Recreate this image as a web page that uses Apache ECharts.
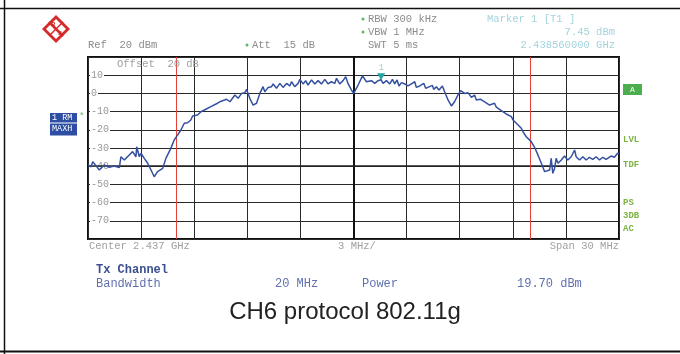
<!DOCTYPE html>
<html><head><meta charset="utf-8">
<script src="https://cdn.jsdelivr.net/npm/echarts@6/dist/echarts.min.js"></script>
<style>html,body{margin:0;padding:0;background:#fff}#c{width:680px;height:354px}</style>
</head><body><div id="c"></div>
<script>
// Frequency offset from centre (MHz), centre 2.437 GHz, span 30 MHz
const freqOffsetMHz = [-15,-14.83,-14.73,-14.36,-14.08,-13.80,-13.52,-13.23,-13.14,-12.95,
-12.67,-12.48,-12.29,-12.25,-12.10,-12.01,-11.82,-11.63,-11.44,-11.26,
-11.07,-10.78,-10.60,-10.32,-10.13,-9.94,-9.75,-9.56,-9.37,-9.19,
-9.09,-8.81,-8.62,-8.34,-8.06,-7.68,-7.55,-7.17,-6.98,-6.70,
-6.52,-6.32,-6.14,-6.04,-5.86,-5.67,-5.48,-5.29,-5.11,-5.01,
-4.82,-4.63,-4.54,-4.35,-4.16,-3.98,-3.78,-3.60,-3.50,-3.32,
-3.13,-3.03,-2.85,-2.70,-2.57,-2.37,-2.19,-2.00,-1.81,-1.62,
-1.44,-1.25,-1.06,-0.96,-0.78,-0.59,-0.44,-0.31,-0.12,0.01,
0.26,0.51,0.73,1.01,1.20,1.39,1.56,1.67,1.86,2.05,
2.20,2.33,2.46,2.57,2.71,2.89,3.08,3.27,3.46,3.55,
3.74,3.97,4.08,4.30,4.46,4.53,4.68,4.83,5.02,5.15,
5.34,5.53,5.71,5.90,6.05,6.28,6.47,6.66,6.84,6.94,
7.17,7.41,7.69,7.97,8.07,8.35,8.63,8.92,9.01,9.20,
9.48,9.57,9.76,10.04,10.23,10.42,10.61,10.80,10.89,11.08,
11.17,11.26,11.36,11.45,11.55,11.74,11.92,12.11,12.30,12.49,
12.58,12.77,12.96,13.14,13.33,13.52,13.71,13.90,14.08,14.27,
14.55,14.74,14.92,15];
// Trace level (dBm), MAXH
const levelDbm = [-39.3,-40.3,-37.5,-42.1,-39.3,-40.6,-39.9,-40.8,-34.8,-36.6,
-33.8,-32.0,-34.8,-29.3,-34.8,-32.9,-35.7,-38.4,-42.1,-45.8,
-43.0,-41.2,-35.7,-30.2,-25.6,-22.9,-20.1,-16.4,-16.1,-14.6,
-12.4,-11.9,-10.1,-8.7,-7.3,-5.4,-4.6,-3.2,-4.6,-0.9,
-2.7,0.0,0.4,2.2,-2.7,-6.4,-5.4,0.0,3.7,0.9,
3.3,3.7,5.2,2.8,5.5,3.3,5.5,4.1,6.4,3.7,
5.5,7.7,5.2,7.0,4.6,7.4,5.2,7.0,5.2,7.7,
5.2,6.4,5.5,8.3,5.2,7.0,9.2,5.5,1.9,0.0,
4.6,9.6,6.4,7.0,5.5,7.0,7.45,5.5,7.0,5.2,
7.7,5.2,7.4,4.1,5.9,5.2,4.1,5.2,6.4,3.3,
4.1,5.5,2.8,3.7,4.4,2.2,3.7,1.9,4.1,0.9,
-3.6,-6.9,-4.6,-0.9,1.5,0.0,0.4,-2.2,-0.9,-3.6,
-3.2,-4.6,-6.4,-5.4,-7.6,-9.5,-11.3,-12.8,-14.6,-16.4,
-19.2,-21.0,-23.8,-26.5,-29.6,-33.8,-38.4,-43.0,-43.9,-42.1,
-35.7,-43.9,-41.2,-35.7,-38.4,-36.6,-34.4,-36.6,-34.8,-31.1,
-34.8,-36.6,-34.8,-36.6,-35.1,-36.2,-34.8,-36.6,-35.1,-36.2,
-34.4,-35.1,-32.9,-33.0];
const yLabelled = [10,0,-10,-20,-30,-40,-50,-60,-70];
const channelEdgesMHz = [-10, 10];
const markerPoint = [1.56, 7.45];

const MONO = "'Liberation Mono','DejaVu Sans Mono',monospace";
const GRAY = '#8c8c8c';
function t(x, y, text, o) {
  o = o || {};
  return {type:'text', x:x, y:y, z:50, style:{text:text, fill:o.fill||GRAY,
    font:(o.weight||'normal')+' '+(o.size||10.5)+'px '+(o.family||MONO),
    align:o.align||'left', textAlign:o.align||'left',
    verticalAlign:'middle', textVerticalAlign:'middle'}};
}

const chart = echarts.init(document.getElementById('c'), null, {renderer:'canvas'});
const data = freqOffsetMHz.map((f,i)=>[f, levelDbm[i]]);

chart.setOption({
  animation:false,
  backgroundColor:'#fff',
  grid:{left:88, top:57, width:531, height:182, show:true, borderColor:'#111', borderWidth:2, backgroundColor:'transparent'},
  xAxis:{type:'value', min:-15, max:15, interval:3,
    axisLine:{show:false}, axisTick:{show:false}, axisLabel:{show:false},
    splitLine:{show:true, lineStyle:{color:'#2a2a2a', width:1}}},
  yAxis:{type:'value', min:-80, max:20, interval:10,
    axisLine:{show:false}, axisTick:{show:false},
    axisLabel:{show:true, inside:true, margin:2, color:'#999', fontFamily:MONO, fontSize:10,
      backgroundColor:'#fff', padding:[0,1,0,1],
      formatter:v=> yLabelled.indexOf(v)>=0 ? String(v) : ''},
    splitLine:{show:true, lineStyle:{color:'#2a2a2a', width:1}}},
  series:[
    {type:'line', data:data, showSymbol:false, symbol:'none', z:5,
     lineStyle:{color:'#3450a0', width:1.5},
     markLine:{silent:true, symbol:'none', label:{show:false}, animation:false,
       data:[
         {xAxis:0, lineStyle:{color:'#111', width:2, type:'solid'}},
         {yAxis:-40, lineStyle:{color:'#222', width:1.6, type:'solid'}},
         ...channelEdgesMHz.map(v=>({xAxis:v, lineStyle:{color:'#e8413a', width:1, type:'solid'}}))
       ]},
     markPoint:{silent:true, animation:false,
       data:[{coord:markerPoint}],
       symbol:'triangle', symbolRotate:180, symbolSize:[8,7], symbolOffset:[0,-3],
       itemStyle:{color:'#1fa5a5'},
       label:{show:true, formatter:'1', position:'top', distance:1, color:'#9fd3d8', fontFamily:MONO, fontSize:9}}
    }
  ],
  graphic:[
    // frame
    {type:'line', shape:{x1:4.5,y1:0,x2:4.5,y2:354}, style:{stroke:'#111', lineWidth:1.5}},
    {type:'line', shape:{x1:0,y1:8.5,x2:680,y2:8.5}, style:{stroke:'#111', lineWidth:1.5}},
    {type:'line', shape:{x1:0,y1:351.5,x2:680,y2:351.5}, style:{stroke:'#111', lineWidth:2}},
    // logo
    {type:'polygon', shape:{points:[[56,15],[70,29],[56,43],[42,29]]}, style:{fill:'#d42a2a'}},
    {type:'polygon', shape:{points:[[56,19],[66,29],[56,39],[46,29]]}, style:{fill:'#fff'}},
    {type:'line', shape:{x1:49,y1:22,x2:63,y2:36}, style:{stroke:'#d42a2a', lineWidth:2.5}},
    {type:'line', shape:{x1:63,y1:22,x2:49,y2:36}, style:{stroke:'#d42a2a', lineWidth:1.5}},
    t(51,24,'R',{fill:'#d42a2a', size:6, family:'Liberation Sans', weight:'bold'}),
    t(58,33,'S',{fill:'#d42a2a', size:6, family:'Liberation Sans', weight:'bold'}),
    // header
    t(88,45,'Ref  20 dBm'),
    {type:'circle', shape:{cx:247,cy:45,r:1.5}, style:{fill:'#5cb85c'}},
    t(252,45,'Att  15 dB'),
    {type:'circle', shape:{cx:363,cy:19,r:1.5}, style:{fill:'#5cb85c'}},
    t(368,19,'RBW 300 kHz'),
    {type:'circle', shape:{cx:363,cy:32,r:1.5}, style:{fill:'#5cb85c'}},
    t(368,32,'VBW 1 MHz'),
    t(368,45,'SWT 5 ms'),
    t(487,19,'Marker 1 [T1 ]',{fill:'#a3d3dc'}),
    t(615,32,'7.45 dBm',{fill:'#a3d3dc', align:'right'}),
    t(615,45,'2.438560000 GHz',{fill:'#a3d3dc', align:'right'}),
    // inside offset text
    t(117,64,'Offset  20 dB',{fill:'#a0a0a0'}),
    // left status boxes
    {type:'rect', shape:{x:50,y:113,width:27,height:9.5}, style:{fill:'#2d4ea3'}},
    {type:'rect', shape:{x:50,y:123.5,width:27,height:12}, style:{fill:'#2d4ea3'}},
    t(52,117.8,'1 RM',{fill:'#fff', size:8.5}),
    t(52,129,'MAXH',{fill:'#fff', size:8.5}),
    t(79,117,'*',{fill:'#5cb85c', size:9}),
    // right side
    {type:'rect', shape:{x:623,y:84,width:19,height:11}, style:{fill:'#4cae4c'}},
    t(632.5,89.8,'A',{fill:'#fff', size:8, align:'center'}),
    t(623,140,'LVL',{fill:'#7cb342', size:9, family:MONO, weight:'bold'}),
    t(623,165,'TDF',{fill:'#7cb342', size:9, weight:'bold'}),
    t(623,203,'PS',{fill:'#7cb342', size:9, weight:'bold'}),
    t(623,216,'3DB',{fill:'#7cb342', size:9, weight:'bold'}),
    t(623,229,'AC',{fill:'#7cb342', size:9, weight:'bold'}),
    // bottom axis texts
    t(89,246.5,'Center 2.437 GHz',{fill:'#a0a0a0'}),
    t(357,246.5,'3 MHz/',{fill:'#a0a0a0', align:'center'}),
    t(619,246.5,'Span 30 MHz',{fill:'#a0a0a0', align:'right'}),
    // channel power
    t(96,270,'Tx Channel',{fill:'#3a4f90', weight:'bold', size:12}),
    t(96,284,'Bandwidth',{fill:'#6070b0', size:12}),
    t(275,284,'20 MHz',{fill:'#6070b0', size:12}),
    t(362,284,'Power',{fill:'#6070b0', size:12}),
    t(517,284,'19.70 dBm',{fill:'#6070b0', size:12}),
    // caption
    t(345,312,'CH6 protocol 802.11g',{fill:'#222', size:24, family:"'Liberation Sans',Arial,sans-serif", align:'center'})
  ]
});
</script></body></html>
